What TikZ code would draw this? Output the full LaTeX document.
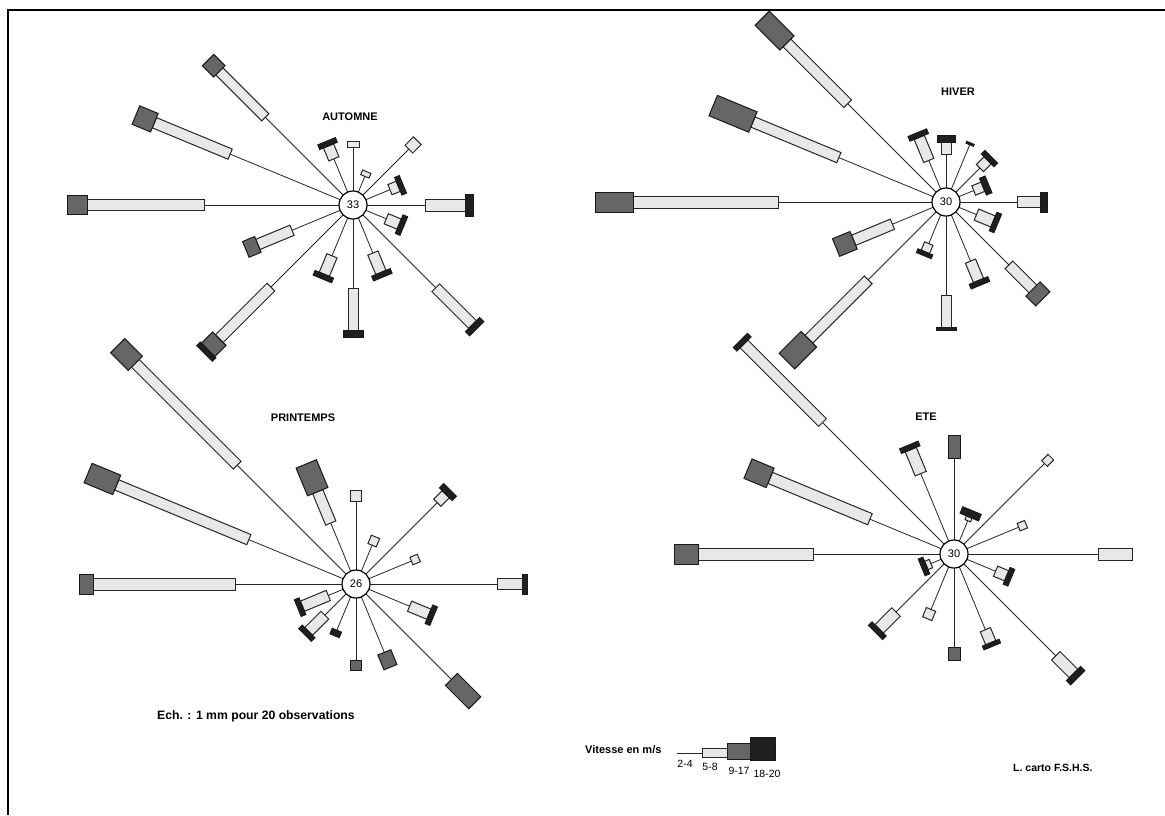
\documentclass[tikz,border=0pt]{standalone}
\usepackage{fontspec}
\setmainfont{Liberation Sans}
\newcommand{\windarm}[9]{%
  \begin{scope}[shift={(#1)},rotate=#2]
    \draw[spoke] (0,0) -- (#3,0);
    \ifdim #4pt>#3pt \filldraw[wbar] (#3,-#7/2) rectangle (#4,#7/2);\fi
    \ifdim #5pt>#4pt \filldraw[gbar] (#4,-#8/2) rectangle (#5,#8/2);\fi
    \ifdim #6pt>#5pt \filldraw[bbar] (#5,-#9/2) rectangle (#6,#9/2);\fi
  \end{scope}}
\begin{document}
\begin{tikzpicture}[x=1pt,y=-1pt,
  spoke/.style={draw=black!85,line width=0.8pt},
  wbar/.style={draw=black!85,fill=black!9,line width=1pt},
  gbar/.style={draw=black!90,fill=black!60,line width=1pt},
  bbar/.style={draw=black!90,fill=black!88,line width=1pt},
  hub/.style={circle,draw=black,fill=white,line width=1.2pt,minimum size=28pt,inner sep=0pt,font=\fontsize{11}{11}\selectfont},
  title/.style={font=\fontsize{11}{11}\selectfont\bfseries,inner sep=0pt},
  note/.style={font=\fontsize{11}{11}\selectfont\bfseries,inner sep=0pt},
  lab/.style={font=\fontsize{10.5}{10.5}\selectfont,inner sep=0pt}]
\useasboundingbox (0,0) rectangle (1165,815);
\fill[white] (0,0) rectangle (1165,815);
\draw[line width=2pt] (8,815) -- (8,10) -- (1165,10);

\coordinate (A) at (353,205);
\coordinate (H) at (946,202);
\coordinate (P) at (356,584);
\coordinate (E) at (954,554);

% AUTOMNE
\windarm{A}{180}{149}{266}{286}{286}{11}{19}{21}
\windarm{A}{157.5}{133}{215}{235}{235}{11}{20}{21}
\windarm{A}{135}{124}{189}{205}{205}{10}{16}{21}
\windarm{A}{112.5}{50}{64}{64}{69}{11}{0}{19}
\windarm{A}{90}{58}{64}{64}{64}{12}{0}{0}
\windarm{A}{67.5}{31}{36}{36}{36}{9}{0}{0}
\windarm{A}{45}{79}{91}{91}{91}{11}{0}{0}
\windarm{A}{22.5}{40}{49}{49}{54}{11}{0}{19}
\windarm{A}{0}{72}{112}{112}{120}{12}{0}{22}
\windarm{A}{-22.5}{36}{50}{50}{55}{11}{0}{20}
\windarm{A}{-45}{117}{169}{169}{175}{11}{0}{20}
\windarm{A}{-67.5}{52}{73}{73}{78}{11}{0}{20}
\windarm{A}{-90}{83}{125}{125}{132}{10}{0}{20}
\windarm{A}{-112.5}{55}{75}{75}{80}{11}{0}{20}
\windarm{A}{-135}{116}{189}{205}{210}{11}{19}{22}
\windarm{A}{-157.5}{66}{103}{116}{116}{11}{17}{0}

% HIVER
\windarm{H}{180}{168}{313}{351}{351}{12}{20}{0}
\windarm{H}{157.5}{116}{209}{252}{252}{11}{22}{0}
\windarm{H}{135}{139}{225}{260}{260}{11}{20}{0}
\windarm{H}{112.5}{45}{70}{70}{75}{11}{0}{20}
\windarm{H}{90}{48}{60}{60}{67}{10}{0}{18}
\windarm{H}{67.5}{62}{62}{62}{64}{0}{0}{8}
\windarm{H}{45}{48}{59}{59}{64}{10}{0}{18}
\windarm{H}{22.5}{30}{40}{40}{46}{10}{0}{18}
\windarm{H}{0}{71}{94}{94}{101}{11}{0}{20}
\windarm{H}{-22.5}{33}{51}{51}{56}{12}{0}{20}
\windarm{H}{-45}{89}{123}{137}{137}{11}{20}{0}
\windarm{H}{-67.5}{64}{85}{85}{90}{11}{0}{20}
\windarm{H}{-90}{93}{125}{125}{128}{10}{0}{20}
\windarm{H}{-112.5}{45}{54}{54}{58}{9}{0}{16}
\windarm{H}{-135}{110}{194}{225}{225}{11}{22}{0}
\windarm{H}{-157.5}{58}{100}{119}{119}{11}{19}{0}

% PRINTEMPS
\windarm{P}{180}{121}{263}{277}{277}{12}{20}{0}
\windarm{P}{157.5}{116}{259}{290}{290}{11}{21}{0}
\windarm{P}{135}{168}{312}{337}{337}{11}{20}{0}
\windarm{P}{112.5}{66}{100}{130}{130}{11}{22}{0}
\windarm{P}{90}{83}{94}{94}{94}{11}{0}{0}
\windarm{P}{67.5}{42}{51}{51}{51}{9}{0}{0}
\windarm{P}{45}{115}{127}{127}{133}{10}{0}{18}
\windarm{P}{22.5}{60}{68}{68}{68}{8}{0}{0}
\windarm{P}{0}{141}{166}{166}{171}{11}{0}{20}
\windarm{P}{-22.5}{58}{79}{79}{84}{11}{0}{20}
\windarm{P}{-45}{135}{135}{168}{168}{0}{17}{0}
\windarm{P}{-67.5}{74}{74}{90}{90}{0}{14}{0}
\windarm{P}{-90}{76}{76}{86}{86}{0}{11}{0}
\windarm{P}{-112.5}{50}{50}{50}{56}{0}{0}{10}
\windarm{P}{-135}{44}{67}{67}{72}{11}{0}{18}
\windarm{P}{-157.5}{30}{58}{58}{63}{11}{0}{18}

% ETE
\windarm{E}{180}{141}{256}{280}{280}{12}{20}{0}
\windarm{E}{157.5}{91}{199}{223}{223}{12}{21}{0}
\windarm{E}{135}{186}{297}{297}{302}{11}{0}{20}
\windarm{E}{112.5}{87}{113}{113}{118}{12}{0}{20}
\windarm{E}{90}{96}{96}{119}{119}{0}{12}{0}
\windarm{E}{67.5}{36}{40}{40}{47}{6}{0}{20}
\windarm{E}{45}{128}{137}{137}{137}{8}{0}{0}
\windarm{E}{22.5}{70}{78}{78}{78}{8}{0}{0}
\windarm{E}{0}{144}{178}{178}{178}{12}{0}{0}
\windarm{E}{-22.5}{45}{57}{57}{62}{11}{0}{18}
\windarm{E}{-45}{144}{169}{169}{175}{12}{0}{20}
\windarm{E}{-67.5}{82}{96}{96}{100}{11}{0}{18}
\windarm{E}{-90}{93}{93}{106}{106}{0}{12}{0}
\windarm{E}{-112.5}{60}{70}{70}{70}{10}{0}{0}
\windarm{E}{-135}{82}{106}{106}{111}{12}{0}{20}
\windarm{E}{-157.5}{25}{30}{30}{35}{9}{0}{18}

% hubs
\node[hub] (hA) at (A) {33};
\node[hub] (hH) at (H) {30};
\node[hub] (hP) at (P) {26};
\node[hub] (hE) at (E) {30};

% titles
\node[title] (tA) at (350,117) {AUTOMNE};
\node[title] (tH) at (958,92) {HIVER};
\node[title] (tP) at (303,418) {PRINTEMPS};
\node[title] (tE) at (926,417) {ETE};

% scale note
\node[note,anchor=west,font=\fontsize{12.2}{12}\selectfont\bfseries] (scale) at (157,716) {Ech. : 1 mm pour 20 observations};

% legend
\node[note,anchor=west] (vit) at (585,750) {Vitesse en m/s};
\coordinate (l0) at (677,753);
\coordinate (l1) at (702,753);
\draw[spoke] (l0) -- (l1);
\filldraw[wbar] (702,748) rectangle (727,757);
\filldraw[gbar] (727,743) rectangle (750,759);
\filldraw[bbar] (750,737) rectangle (775,760);
\node[lab] (k1) at (685,764) {2-4};
\node[lab] (k2) at (710,767) {5-8};
\node[lab] (k3) at (739,771) {9-17};
\node[lab] (k4) at (767,774) {18-20};

\node[note,font=\fontsize{10.5}{10.5}\selectfont\bfseries,anchor=west] (carto) at (1013,768) {L. carto F.S.H.S.};
\end{tikzpicture}
\end{document}
